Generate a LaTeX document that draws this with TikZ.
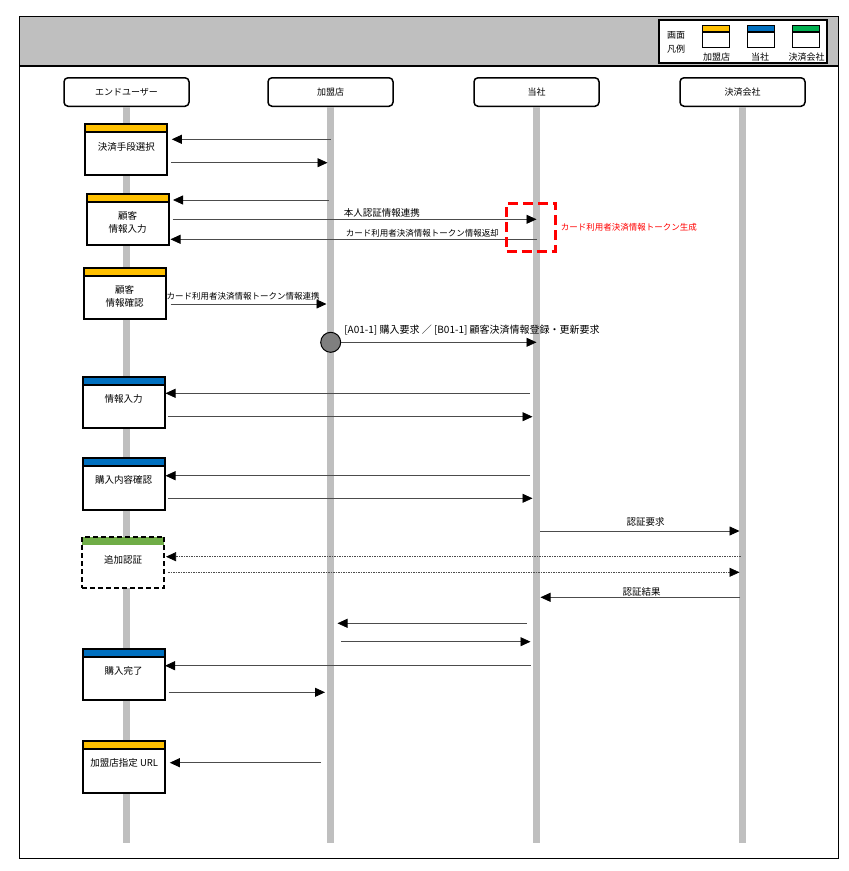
\documentclass[tikz,border=0pt]{standalone}
\usepackage{fontspec}
\setmainfont{Noto Sans CJK JP}
\usepackage{xcolor}
\usepackage{tikz}
\usetikzlibrary{arrows.meta,positioning}

\definecolor{ylw}{HTML}{FFC000}
\definecolor{blu}{HTML}{0070C0}
\definecolor{grn}{HTML}{00B050}
\definecolor{grnband}{HTML}{70AD47}
\definecolor{lgray}{HTML}{BFBFBF}
\definecolor{dgray}{HTML}{7F7F7F}

\tikzset{
  band/.style 2 args={path picture={
      \fill[#1] (path picture bounding box.north west) rectangle ([yshift=-#2]path picture bounding box.north east);
      \draw[line width=2pt] ([yshift=-#2]path picture bounding box.north west) -- ([yshift=-#2]path picture bounding box.north east);}},
  bandonly/.style={path picture={
      \fill[#1] (path picture bounding box.north west) rectangle ([yshift=-8pt]path picture bounding box.north east);}},
}

\begin{document}
\begin{tikzpicture}[x=1pt,y=-1pt,every node/.style={font=\fontsize{9.5}{13}\selectfont,inner sep=2pt},
    actor/.style={draw,rounded corners=4pt,line width=1.5pt,fill=white,minimum width=125pt,minimum height=28.5pt,font=\fontsize{9}{10}\selectfont},
    life/.style={line width=7pt,draw=lgray},
    scr/.style={draw,line width=2pt,fill=white,minimum width=82pt,minimum height=51.5pt,anchor=north,inner sep=0pt,outer sep=0pt,band={#1}{8pt}},
    scrdash/.style={draw,line width=2pt,dash pattern=on 5pt off 3pt,fill=white,minimum width=82pt,minimum height=51.5pt,anchor=north,inner sep=0pt,outer sep=0pt,bandonly=#1},
    lgd/.style={draw,line width=1.5pt,fill=white,minimum width=27pt,minimum height=22pt,anchor=north,inner sep=0pt,outer sep=0pt,band={#1}{6.5pt}},
    stxt/.style={align=center},
    small/.style={font=\fontsize{8.5}{10}\selectfont},
    msg/.style={-{Triangle[length=10pt,width=9pt,color=black]},line width=0.8pt,draw=black!70},
    dotmsg/.style={dash pattern=on 1.5pt off 1pt,line width=0.6pt}]
    \useasboundingbox (0,0) rectangle (849,871);

    % frame and header
    \fill[lgray] (19,16) rectangle (838,66);
    \draw[line width=1pt] (19,16) rectangle (838,858);
    \draw[line width=2.2pt] (19,66) -- (838,66);

    % legend
    \draw[line width=2.5pt,fill=white] (659,20) rectangle (827,63);
    \node[anchor=west,font=\fontsize{9}{10}\selectfont] (lg1) at (665,35) {画面};
    \node[anchor=west,font=\fontsize{9}{10}\selectfont] (lg2) at (665,49) {凡例};
    \node[lgd=ylw] (ly) at (716.2,25.7) {};
    \node[lgd=blu] (lb) at (761,25.7) {};
    \node[lgd=grn] (lgr) at (805.8,25.7) {};
    \node[font=\fontsize{9}{10}\selectfont] (lyt) at (716.7,57.3) {加盟店};
    \node[font=\fontsize{9}{10}\selectfont] (lbt) at (760,57.3) {当社};
    \node[font=\fontsize{9}{10}\selectfont] (lgrt) at (806.7,57.3) {決済会社};

    % actors and lifelines
    \node[actor] (eu) at (126.5,92) {エンドユーザー};
    \node[actor] (ms) at (330.5,92) {加盟店};
    \node[actor] (we) at (536.5,92) {当社};
    \node[actor] (pc) at (742.5,92) {決済会社};
    \draw[life] (eu.south) -- (eu |- 0,843);
    \draw[life] (ms.south) -- (ms |- 0,843);
    \draw[life] (we.south) -- (we |- 0,843);
    \draw[life] (pc.south) -- (pc |- 0,843);

    % screens
    \node[scr=ylw] (s1) at (126.3,123.7) {};
    \node[scr=ylw] (s2) at (127.5,193.7) {};
    \node[scr=ylw] (s3) at (124.7,267.7) {};
    \node[scr=blu] (s4) at (123.5,376.7) {};
    \node[scr=blu] (s5) at (123.5,458) {};
    \node[scrdash=grnband] (s6) at (123,536.7) {};
    \node[scr=blu] (s7) at (123.5,648.7) {};
    \node[scr=ylw] (s8) at (124.3,741) {};
    \node[stxt] (t1) at ([yshift=-23pt]s1.north) {決済手段選択};
    \node[stxt] (t2) at ([yshift=-29pt]s2.north) {顧客\\情報入力};
    \node[stxt] (t3) at ([yshift=-29pt]s3.north) {顧客\\情報確認};
    \node[stxt] (t4) at ([yshift=-22.6pt]s4.north) {情報入力};
    \node[stxt] (t5) at ([yshift=-21.8pt]s5.north) {購入内容確認};
    \node[stxt] (t6) at ([yshift=-23.6pt]s6.north) {追加認証};
    \node[stxt] (t7) at ([yshift=-22.3pt]s7.north) {購入完了};
    \node[stxt] (t8) at ([yshift=-22pt]s8.north) {加盟店指定 URL};

    % messages
    \draw[msg,shorten >=4.5pt] (ms |- 0,139.3) -- (s1.east |- 0,139.3);
    \draw[msg,shorten <=4pt,shorten >=3pt] (s1.east |- 0,162.7) -- (ms |- 0,162.7);
    \draw[msg,shorten <=2pt,shorten >=4.5pt] (ms |- 0,200) -- (s2.east |- 0,200);
    \draw[msg,shorten <=4pt] (s2.east |- 0,219.3) -- node[pos=0.58,above] (l4) {本人認証情報連携} (we |- 0,219.3);
    \draw[msg,shorten >=2pt] (we |- 0,239.3) -- node[small,pos=0.31,above=0pt] (l5) {カード利用者決済情報トークン情報返却} (s2.east |- 0,239.3);
    \draw[msg,shorten <=5pt,shorten >=4pt] (s3.east |- 0,304) -- node[small,pos=0.47,above=1pt] (l6) {カード利用者決済情報トークン情報連携} (ms |- 0,304);
    \node[circle,draw,line width=1pt,fill=dgray,minimum size=20pt,inner sep=0pt] (go) at (330.7,342.3) {};
    \draw[msg] (go) -- node[pos=0.67,above=5pt,font=\fontsize{10}{12}\selectfont] (l7) {[A01-1] 購入要求 ／ [B01-1] 顧客決済情報登録・更新要求} (we |- go);
    \draw[msg,shorten <=6.5pt,shorten >=1pt] (we |- 0,393.3) -- (s4.east |- 0,393.3);
    \draw[msg,shorten <=3pt,shorten >=4pt] (s4.east |- 0,416.7) -- (we |- 0,416.7);
    \draw[msg,shorten <=6.5pt,shorten >=1pt] (we |- 0,475.7) -- (s5.east |- 0,475.7);
    \draw[msg,shorten <=3pt,shorten >=4pt] (s5.east |- 0,498.3) -- (we |- 0,498.3);
    \draw[msg,shorten <=3.5pt,shorten >=3pt] (we |- 0,531) -- node[pos=0.53,above=2pt] (l12) {認証要求} (pc |- 0,531);
    \draw[msg,dotmsg,shorten <=2pt,shorten >=2pt] (pc |- 0,556.7) -- (s6.east |- 0,556.7);
    \draw[msg,dotmsg,shorten <=4pt,shorten >=3pt] (s6.east |- 0,572.3) -- (pc |- 0,572.3);
    \draw[msg,shorten <=2.5pt,shorten >=4pt] (pc |- 0,597.3) -- node[pos=0.49,above=-1.5pt] (l15) {認証結果} (we |- 0,597.3);
    \draw[msg,shorten <=10pt,shorten >=7pt] (we |- 0,623.3) -- (ms |- 0,623.3);
    \draw[msg,shorten <=10.5pt,shorten >=6pt] (ms |- 0,641.7) -- (we |- 0,641.7);
    \draw[msg,shorten <=6pt,shorten >=0.5pt] (we |- 0,665.7) -- (s7.east |- 0,665.7);
    \draw[msg,shorten <=4pt,shorten >=5.5pt] (s7.east |- 0,692.3) -- (ms |- 0,692.3);
    \draw[msg,shorten <=9.5pt,shorten >=4.5pt] (ms |- 0,762.7) -- (s8.east |- 0,762.7);

    % token generation
    \node[draw=red,line width=3pt,dash pattern=on 10pt off 5pt,minimum width=49pt,minimum height=48pt,inner sep=0pt] (gen) at (531.2,227.2) {};
    \node[small,text=red,right=1.5pt of gen] (gent) {カード利用者決済情報トークン生成};
\end{tikzpicture}
\end{document}
